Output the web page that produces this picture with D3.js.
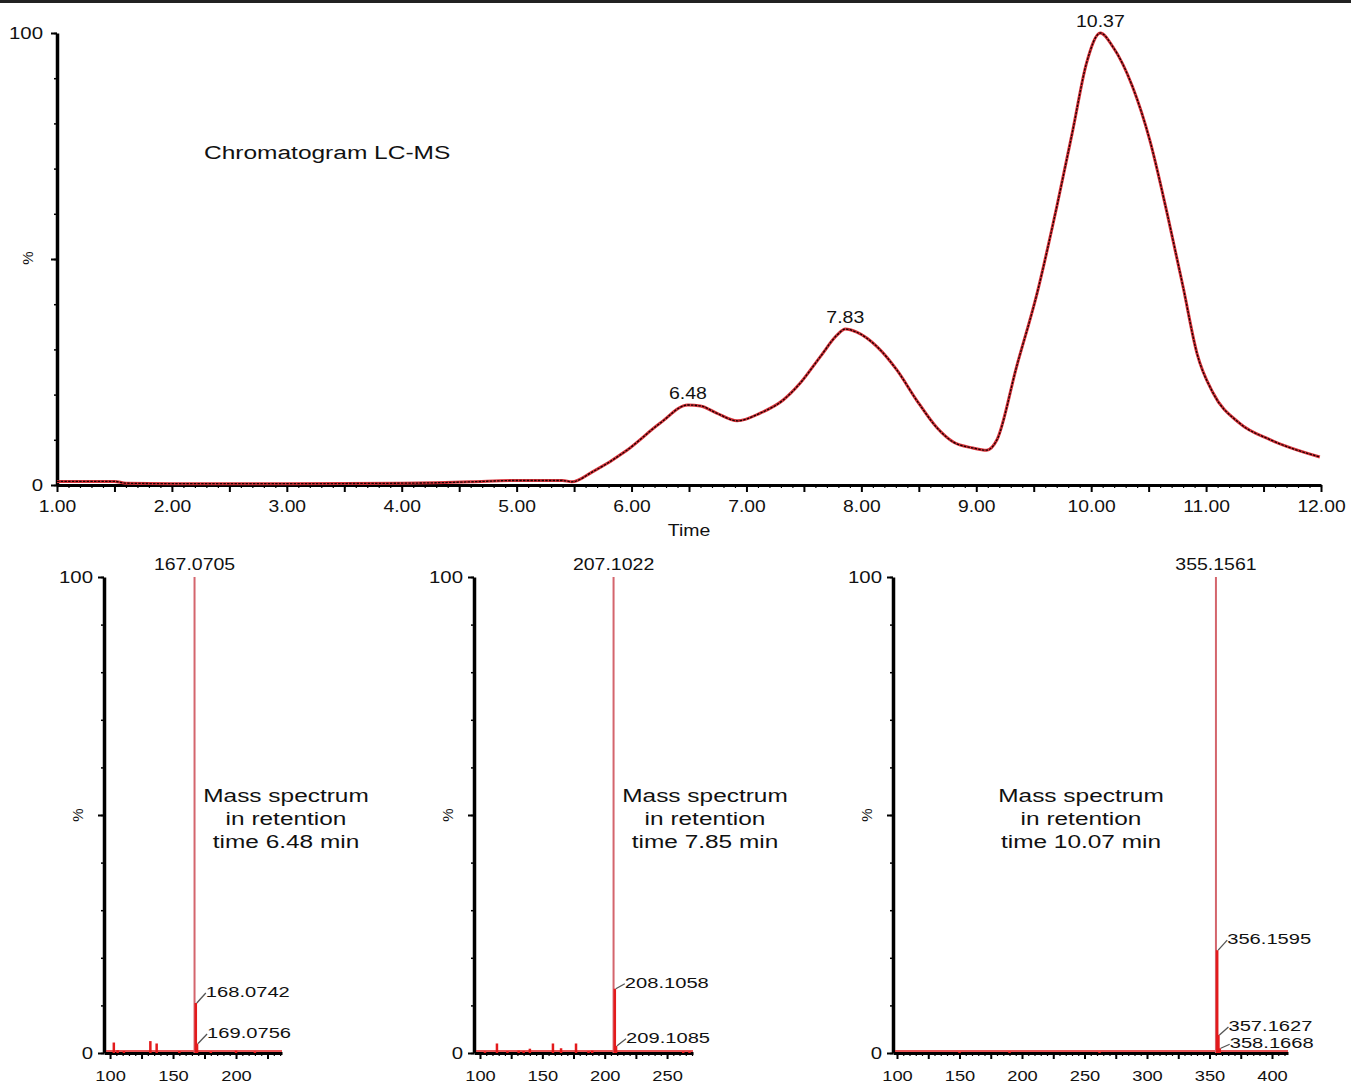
<!DOCTYPE html>
<html>
<head>
<meta charset="utf-8">
<script src="https://cdn.jsdelivr.net/npm/d3@7"></script>
<style>
body { margin: 0; background: #fff; }
text { font-family: "Liberation Sans", Arial, sans-serif; fill: #111; }
</style>
</head>
<body>
<div id="chart"></div>
<script>
// chromatogram trace (time in min, relative intensity %)
var chromTime = [1.00, 1.50, 1.60, 2.00, 3.00, 4.00, 4.30, 4.60, 5.00, 5.40, 5.48,
    5.66, 5.96, 6.25, 6.49, 6.60, 6.74, 6.92, 7.12, 7.32, 7.47, 7.64, 7.79, 7.86,
    7.96, 8.14, 8.31, 8.48, 8.66, 8.80, 8.97, 9.09, 9.18, 9.35, 9.53, 9.70, 9.84,
    9.96, 10.08, 10.19, 10.36, 10.51, 10.66, 10.80, 10.92, 11.06, 11.29, 11.56, 11.99];
var chromPct = [0.8, 0.8, 0.4, 0.3, 0.3, 0.4, 0.5, 0.7, 1.0, 1.0, 0.7,
    2.9, 7.7, 13.7, 17.7, 17.5, 15.9, 14.2, 15.9, 18.8, 22.6, 28.3, 33.2, 34.5,
    33.8, 30.5, 25.4, 18.8, 12.6, 9.5, 8.2, 7.7, 10.0, 26.1, 42.5, 61.5, 78.5,
    93.4, 100, 96.9, 88.1, 76.3, 60.2, 43.8, 29.2, 20.4, 13.7, 10.0, 6.2];
var peakTimes = [6.49, 7.86, 10.08];
var peakLabels = ["6.48", "7.83", "10.37"];
var timeTicks = d3.range(1, 13);

// mass spectra
var spec1Mz = [103, 106, 111, 132, 137, 155, 167.0705, 168.0742, 169.0756, 180, 200, 215];
var spec1Pct = [2.2, 0.6, 0.4, 2.5, 2.0, 0.4, 100, 10.5, 2.0, 0.3, 0.5, 0.3];
var spec1Labels = ["167.0705", "168.0742", "169.0756"];
var spec1Ticks = [100, 150, 200];

var spec2Mz = [104, 113.6, 122, 131, 135, 140, 158.5, 165, 177, 187, 190, 207.1022, 208.1058, 209.1085, 263, 268];
var spec2Pct = [0.3, 2.0, 0.4, 0.5, 0.4, 0.9, 2.0, 1.0, 2.0, 0.4, 0.5, 100, 13.5, 1.5, 0.3, 0.3];
var spec2Labels = ["207.1022", "208.1058", "209.1085"];
var spec2Ticks = [100, 150, 200, 250];

var spec3Mz = [150, 190, 262, 355.1561, 356.1595, 357.1627, 358.1668];
var spec3Pct = [0.2, 0.3, 0.2, 100, 21.6, 3.8, 1.0];
var spec3Labels = ["355.1561", "356.1595", "357.1627", "358.1668"];
var spec3Ticks = [100, 150, 200, 250, 300, 350, 400];

var width = 1351, height = 1085;

var svg = d3.select("#chart")
    .append("svg")
    .attr("width", width)
    .attr("height", height);

// rule across the top
svg.append("rect")
    .attr("x", 0).attr("y", 0)
    .attr("width", width).attr("height", 3)
    .attr("fill", "#222");

// text stretched horizontally like the original figure
function label(g, x, y, str, size, sx, anchor) {
    return g.append("text")
        .attr("transform", `translate(${x},${y}) scale(${sx},1)`)
        .attr("text-anchor", anchor || "middle")
        .attr("font-size", size)
        .text(str);
}

function stretchTicks(g, size, sx) {
    g.selectAll("text")
        .attr("font-size", size)
        .attr("fill", "#111")
        .attr("transform", function () {
            var t = d3.select(this);
            var xx = +t.attr("x") || 0, yy = +t.attr("y") || 0;
            return `translate(${xx * (1 - sx)},0) scale(${sx},1)`;
        });
}

function styleAxis(g, w) {
    g.select(".domain").attr("stroke", "#000").attr("stroke-width", w);
    g.selectAll(".tick line").attr("stroke", "#000").attr("stroke-width", 1.5);
}

// ---------- chromatogram ----------
var x = d3.scaleLinear().domain([1, 12]).range([57, 1321]);
var y = d3.scaleLinear().domain([0, 100]).range([485, 33]);

var chrom = svg.append("g");

chrom.append("g")
    .attr("transform", `translate(0,${y(0)})`)
    .call(d3.axisBottom(x).tickValues(d3.range(10, 121).map(d => d / 10)).tickSize(3).tickSizeOuter(0).tickFormat(""))
    .call(g => styleAxis(g, 3))
    .call(g => g.selectAll(".tick line").attr("stroke-width", 1.2));

chrom.append("g")
    .attr("transform", `translate(0,${y(0)})`)
    .call(d3.axisBottom(x).tickValues(d3.range(2, 25).map(d => d / 2)).tickSize(7).tickSizeOuter(0).tickFormat(""))
    .call(g => g.select(".domain").remove())
    .call(g => g.selectAll(".tick line").attr("stroke", "#000").attr("stroke-width", 2));

chrom.append("g")
    .attr("transform", `translate(0,${y(0)})`)
    .call(d3.axisBottom(x).tickValues(timeTicks).tickSize(0).tickPadding(15).tickFormat(d3.format(".2f")))
    .call(g => g.select(".domain").remove())
    .call(g => stretchTicks(g, 16.5, 1.17));

chrom.append("g")
    .attr("transform", `translate(${x(1)},0)`)
    .call(d3.axisLeft(y).tickValues(d3.range(0, 101, 10)).tickSize(3).tickSizeOuter(0).tickFormat(""))
    .call(g => styleAxis(g, 3.5));

chrom.append("g")
    .attr("transform", `translate(${x(1)},0)`)
    .call(d3.axisLeft(y).tickValues([0, 50, 100]).tickSize(6).tickPadding(8).tickFormat(d => d === 50 ? "" : d))
    .call(g => g.select(".domain").remove())
    .call(g => g.selectAll(".tick line").attr("stroke", "#000").attr("stroke-width", 2))
    .call(g => stretchTicks(g, 17, 1.2));

chrom.append("text")
    .attr("transform", "translate(33,258) rotate(-90)")
    .attr("text-anchor", "middle")
    .attr("font-size", 15)
    .text("%");
label(chrom, 689, 536, "Time", 16.5, 1.18);
label(chrom, 204, 159, "Chromatogram LC-MS", 19, 1.29, "start");

var line = d3.line()
    .x((d, i) => x(chromTime[i]))
    .y(d => y(d))
    .curve(d3.curveMonotoneX);

chrom.append("path")
    .datum(chromPct)
    .attr("d", line)
    .attr("fill", "none")
    .attr("stroke", "#d8333a")
    .attr("stroke-width", 3);

chrom.append("path")
    .datum(chromPct)
    .attr("d", line)
    .attr("fill", "none")
    .attr("stroke", "#1a0000")
    .attr("stroke-width", 1.3)
    .attr("stroke-dasharray", "2.5,1.2");

peakTimes.forEach(function (t, i) {
    var v = chromPct[chromTime.indexOf(t)];
    label(chrom, x(t), y(v) - 6, peakLabels[i], 16, 1.22);
});

// ---------- mass spectra ----------
function spectrum(opts) {
    var xs = d3.scaleLinear().domain(opts.domain).range(opts.range);
    var ys = d3.scaleLinear().domain([0, 100]).range([1053, 577]);
    var g = svg.append("g");

    g.append("g")
        .attr("transform", `translate(0,${ys(0)})`)
        .call(d3.axisBottom(xs).tickValues(d3.range(100, opts.domain[1], 5)).tickSize(3).tickSizeOuter(0).tickFormat(""))
        .call(a => styleAxis(a, 3))
        .call(a => a.selectAll(".tick line").attr("stroke-width", 1.2));

    g.append("g")
        .attr("transform", `translate(0,${ys(0)})`)
        .call(d3.axisBottom(xs).tickValues(d3.range(100, opts.domain[1], 25)).tickSize(6).tickPadding(11)
            .tickFormat(d => opts.ticks.indexOf(d) >= 0 ? d : ""))
        .call(a => a.select(".domain").remove())
        .call(a => a.selectAll(".tick line").attr("stroke", "#000").attr("stroke-width", 2))
        .call(a => stretchTicks(a, 15.5, 1.18));

    g.append("g")
        .attr("transform", `translate(${opts.range[0]},0)`)
        .call(d3.axisLeft(ys).tickValues(d3.range(0, 101, 10)).tickSize(3).tickSizeOuter(0).tickFormat(""))
        .call(a => styleAxis(a, 3.5));

    g.append("g")
        .attr("transform", `translate(${opts.range[0]},0)`)
        .call(d3.axisLeft(ys).tickValues([0, 50, 100]).tickSize(6).tickPadding(5).tickFormat(d => d === 50 ? "" : d))
        .call(a => a.select(".domain").remove())
        .call(a => a.selectAll(".tick line").attr("stroke", "#000").attr("stroke-width", 2))
        .call(a => stretchTicks(a, 17, 1.2));

    g.append("text")
        .attr("transform", `translate(${opts.range[0] - 21},815) rotate(-90)`)
        .attr("text-anchor", "middle")
        .attr("font-size", 15)
        .text("%");

    // red baseline on the axis
    g.append("line")
        .attr("x1", opts.range[0] + 2).attr("x2", opts.range[1])
        .attr("y1", ys(0) - 2).attr("y2", ys(0) - 2)
        .attr("stroke", "#e31a1c").attr("stroke-width", 1.5);

    g.selectAll(".bar")
        .data(opts.mz)
        .enter()
        .append("line")
        .attr("class", "bar")
        .attr("x1", d => xs(d)).attr("x2", d => xs(d))
        .attr("y1", ys(0))
        .attr("y2", (d, i) => ys(opts.pct[i]))
        .attr("stroke", (d, i) => opts.pct[i] === 100 ? "#d4656d" : "#e31a1c")
        .attr("stroke-width", (d, i) => opts.pct[i] === 100 ? 2 : 2.5);

    opts.labels.forEach(function (s, k) {
        var mz = +s;
        var i = opts.mz.indexOf(mz);
        var bx = xs(mz), by = ys(opts.pct[i]);
        if (k === 0) {
            label(g, bx, by - 7, s, 16, 1.22);
            return;
        }
        var ty = by + opts.labelDy[k - 1];
        g.append("line")
            .attr("x1", bx + 1).attr("y1", by)
            .attr("x2", bx + 10).attr("y2", ty + 2)
            .attr("stroke", "#555").attr("stroke-width", 1.3);
        label(g, bx + 10, ty + 6, s, 15.5, 1.3, "start");
    });

    opts.text.forEach(function (s, k) {
        label(g, opts.textX, 802 + k * 23, s, 18.5, 1.32);
    });
}

spectrum({
    domain: [95.2, 236.5], range: [104, 282], mz: spec1Mz, pct: spec1Pct,
    labels: spec1Labels, ticks: spec1Ticks, labelDy: [-12, -11.5], textX: 286,
    text: ["Mass spectrum", "in retention", "time 6.48 min"]
});
spectrum({
    domain: [95.2, 270.8], range: [474, 693], mz: spec2Mz, pct: spec2Pct,
    labels: spec2Labels, ticks: spec2Ticks, labelDy: [-7, -9], textX: 705,
    text: ["Mass spectrum", "in retention", "time 7.85 min"]
});
spectrum({
    domain: [96.8, 412.8], range: [893, 1288], mz: spec3Mz, pct: spec3Pct,
    labels: spec3Labels, ticks: spec3Ticks, labelDy: [-12, -10, -6], textX: 1081,
    text: ["Mass spectrum", "in retention", "time 10.07 min"]
});
</script>
</body>
</html>
